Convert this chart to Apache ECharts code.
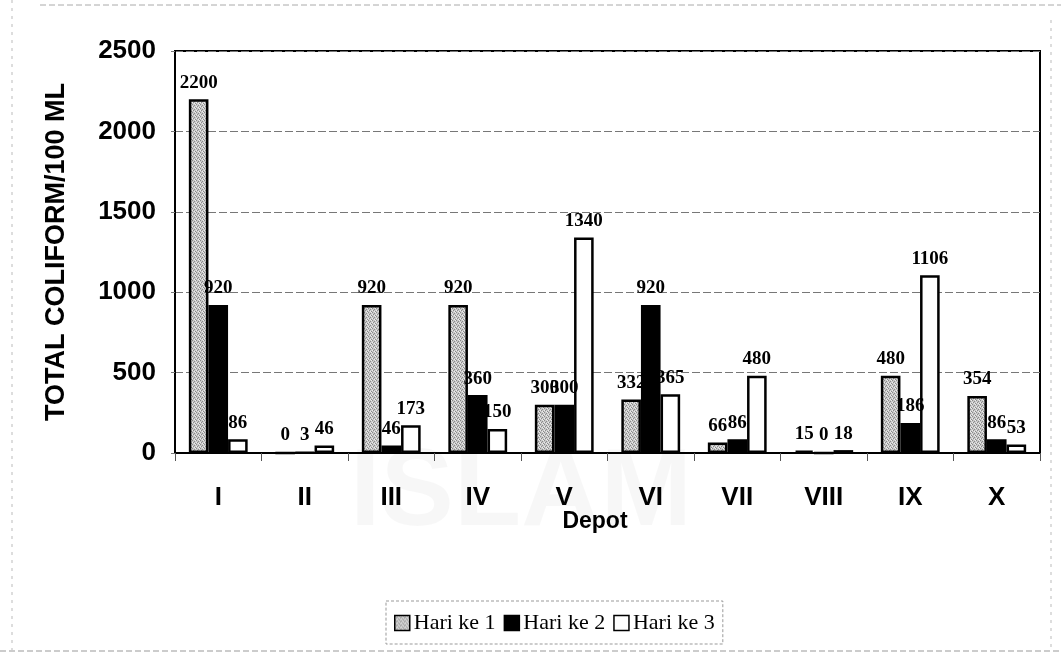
<!DOCTYPE html>
<html>
<head>
<meta charset="utf-8">
<script src="https://cdn.jsdelivr.net/npm/echarts@6/dist/echarts.min.js"></script>
<style>
    html, body { margin: 0; padding: 0; background: #fff; }
    #chart { width: 1061px; height: 655px; }
</style>
</head>
<body>
<div id="chart"></div>
<script>
const depots = ['I', 'II', 'III', 'IV', 'V', 'VI', 'VII', 'VIII', 'IX', 'X'];
const hari1 = [2200, 0, 920, 920, 300, 332, 66, 15, 480, 354];
const hari2 = [920, 3, 46, 360, 300, 920, 86, 0, 186, 86];
const hari3 = [86, 46, 173, 150, 1340, 365, 480, 18, 1106, 53];
const seriesNames = ['Hari ke 1', 'Hari ke 2', 'Hari ke 3'];
const yTicks = [0, 500, 1000, 1500, 2000, 2500];

// stippled grey fill, like the scanned print
const dots = document.createElement('canvas');
dots.width = 4; dots.height = 4;
const dctx = dots.getContext('2d');
dctx.fillStyle = '#c8c8c8';
dctx.fillRect(0, 0, 4, 4);
dctx.fillStyle = '#8a8a8a';
[[0, 0], [2, 1], [1, 2], [3, 3]].forEach(p => dctx.fillRect(p[0], p[1], 1, 1));
dctx.fillStyle = '#ececec';
[[2, 3], [0, 2], [3, 0]].forEach(p => dctx.fillRect(p[0], p[1], 1, 1));
const stipple = { image: dots, repeat: 'repeat' };

const chart = echarts.init(document.getElementById('chart'));

const labelStyle = {
    show: true,
    position: 'top',
    distance: 7,
    fontFamily: 'Liberation Serif, Times New Roman, serif',
    fontWeight: 'bold',
    fontSize: 19,
    color: '#000'
};

const styles = [
    { color: stipple, borderColor: '#000', borderWidth: 2.5 },
    { color: '#000', borderColor: '#000', borderWidth: 2.5 },
    { color: '#fff', borderColor: '#000', borderWidth: 2.5 }
];

const option = {
    backgroundColor: '#fff',
    animation: false,
    grid: {
        left: 175, right: 21, top: 51, bottom: 202,
        show: true, borderColor: '#000', borderWidth: 2
    },
    legend: {
        top: 601,
        left: 386,
        itemGap: 8,
        itemWidth: 15,
        itemHeight: 15,
        icon: 'rect',
        padding: [11, 8, 10, 8],
        borderColor: '#999',
        borderWidth: 1,
        borderType: [3, 2],
        textStyle: {
            fontFamily: 'Liberation Serif, Times New Roman, serif',
            fontSize: 22,
            color: '#000',
            padding: [0, 0, 0, -1]
        },
        data: seriesNames.map((n, i) => ({
            name: n,
            itemStyle: Object.assign({}, styles[i], { borderWidth: 1.5 })
        }))
    },
    xAxis: {
        type: 'category',
        data: depots,
        name: 'Depot',
        nameLocation: 'middle',
        nameGap: 57,
        nameMoveOverlap: false,
        nameTextStyle: {
            fontFamily: 'Liberation Sans, Arial, sans-serif',
            fontWeight: 'bold',
            fontSize: 23,
            color: '#000',
            padding: [0, 25, 0, 0]
        },
        axisLine: { lineStyle: { color: '#000', width: 2 } },
        axisTick: { show: true, length: 8, lineStyle: { color: '#555', width: 1 } },
        axisLabel: {
            margin: 32,
            fontFamily: 'Liberation Sans, Arial, sans-serif',
            fontWeight: 'bold',
            fontSize: 26,
            color: '#000'
        }
    },
    yAxis: {
        type: 'value',
        min: yTicks[0],
        max: yTicks[yTicks.length - 1],
        interval: 500,
        name: 'TOTAL COLIFORM/100 ML',
        nameLocation: 'middle',
        nameGap: 105,
        nameTextStyle: {
            fontFamily: 'Liberation Sans, Arial, sans-serif',
            fontWeight: 'bold',
            fontSize: 27,
            color: '#000'
        },
        axisLine: { show: true, lineStyle: { color: '#000', width: 2 } },
        axisTick: { show: true, inside: false, length: 4, lineStyle: { color: '#777' } },
        axisLabel: {
            margin: 19,
            formatter: v => String(v),
            fontFamily: 'Liberation Sans, Arial, sans-serif',
            fontWeight: 'bold',
            fontSize: 26,
            color: '#000'
        },
        splitLine: { lineStyle: { color: '#777', type: [8, 3], width: 1 } }
    },
    graphic: [
        {
            type: 'text', left: 350, top: 440, silent: true, z: -10,
            style: {
                text: 'ISLAM',
                fontFamily: 'Liberation Sans, Arial, sans-serif',
                fontWeight: 'bold',
                fontSize: 110,
                fill: 'rgba(0,0,0,0.03)'
            }
        },
        {
            type: 'line', silent: true,
            shape: { x1: 40, y1: 5, x2: 1061, y2: 5 },
            style: { stroke: '#aaa', lineWidth: 1, lineDash: [6, 3] }
        },
        {
            type: 'line', silent: true,
            shape: { x1: 12, y1: 0, x2: 12, y2: 650 },
            style: { stroke: '#bbb', lineWidth: 1, lineDash: [3, 5] }
        },
        {
            type: 'line', silent: true,
            shape: { x1: 1051, y1: 20, x2: 1051, y2: 650 },
            style: { stroke: '#bbb', lineWidth: 1, lineDash: [3, 5] }
        },
        {
            type: 'line', silent: true,
            shape: { x1: 0, y1: 651, x2: 1061, y2: 651 },
            style: { stroke: '#999', lineWidth: 1, lineDash: [6, 3] }
        }
    ],
    series: [hari1, hari2, hari3].map((vals, i) => ({
        name: seriesNames[i],
        type: 'bar',
        data: vals,
        barGap: '0%',
        barCategoryGap: '32%',
        itemStyle: styles[i],
        label: labelStyle
    }))
};

chart.setOption(option);
</script>
</body>
</html>
